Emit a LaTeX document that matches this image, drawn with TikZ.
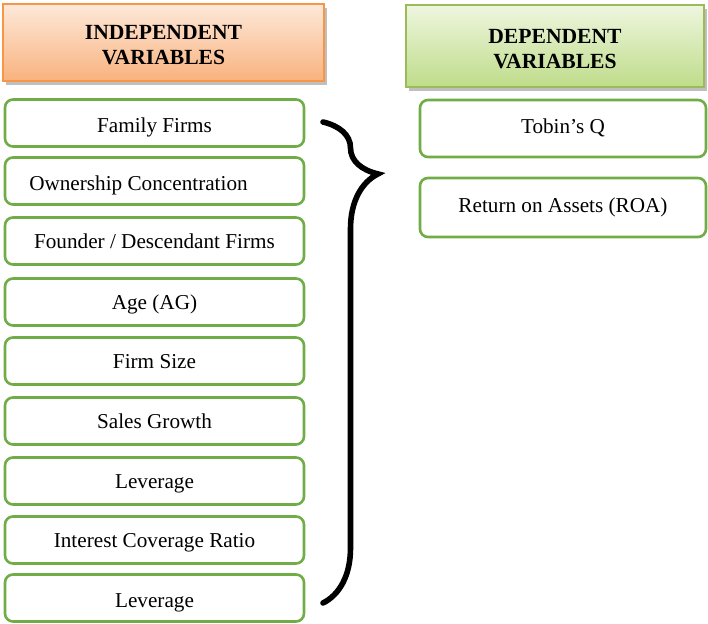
\documentclass[tikz,border=0pt]{standalone}
\usepackage{fontspec}
\setmainfont{Liberation Serif}
\usepackage{xcolor}
\usepackage{tikz}
\usetikzlibrary{shadows,decorations.pathreplacing}

\definecolor{orangeline}{HTML}{F79646}
\definecolor{orangetop}{HTML}{FDE9DA}
\definecolor{orangebot}{HTML}{F9B27E}
\definecolor{greenline}{HTML}{9BBB59}
\definecolor{greentop}{HTML}{EEF6DF}
\definecolor{greenbot}{HTML}{BFDC8A}
\definecolor{boxline}{HTML}{70AD47}

\begin{document}
\begin{tikzpicture}[
    x=0.5pt, y=-0.5pt,
    every node/.style={font=\fontsize{10.6}{12.5}\selectfont},
    indhead/.style={rectangle, draw=orangeline, line width=1.3pt, top color=orangetop, bottom color=orangebot,
        drop shadow={shadow xshift=1.5pt, shadow yshift=-2pt, opacity=0.5},
        minimum width=160.5pt, minimum height=38.5pt, align=center, font=\fontsize{10.8}{12.5}\selectfont\bfseries},
    dephead/.style={indhead, draw=greenline, top color=greentop, bottom color=greenbot,
        minimum width=149pt, minimum height=41pt},
    indep/.style={rectangle, rounded corners=4pt, draw=boxline, line width=1.3pt, fill=white,
        minimum width=149.5pt, minimum height=23.5pt, text height=8.5pt, text depth=1pt},
    dep/.style={indep, minimum width=143pt, minimum height=28.5pt, text height=7.5pt, text depth=2pt},
    brc/.style={decorate, decoration={brace, amplitude=27.5pt, aspect=0.108}, line width=2.8pt, line cap=round}
]
    \useasboundingbox (0,0) rectangle (708,624);

    % headers
    \node[indhead] (ih) at (163.5,42.5) {\rule{0pt}{10pt}INDEPENDENT\\VARIABLES};
    \node[dephead] (dh) at (555,46) {\rule{0pt}{10pt}DEPENDENT\\VARIABLES};

    % independent variables
    \node[indep, text height=10pt, text depth=0pt] (fam) at (154.5,123) {Family Firms};
    \node[indep, text height=10pt, text depth=0pt] (own) at (154.5,181) {\hspace{-16pt}Ownership Concentration};
    \node[indep] (fnd) at (154.5,241) {Founder / Descendant Firms};
    \node[indep] (age) at (154.5,302) {Age (AG)};
    \node[indep] (siz) at (154.5,361) {Firm Size};
    \node[indep] (sal) at (154.5,421) {Sales Growth};
    \node[indep] (lev) at (154.5,481) {Leverage};
    \node[indep] (icr) at (154.5,540) {Interest Coverage Ratio};
    \node[indep, text height=10pt, text depth=0pt] (lev2) at (154.5,598) {Leverage};

    % dependent variables
    \node[dep] (tq) at (563,128.5) {Tobin’s Q};
    \node[dep, minimum height=29.5pt] (roa) at (563,207.5) {Return on Assets (ROA)};

    % brace
    \coordinate (btop) at (323,122);
    \coordinate (bbot) at (323,603);
    \draw[brc] (btop) -- (bbot);
\end{tikzpicture}
\end{document}
